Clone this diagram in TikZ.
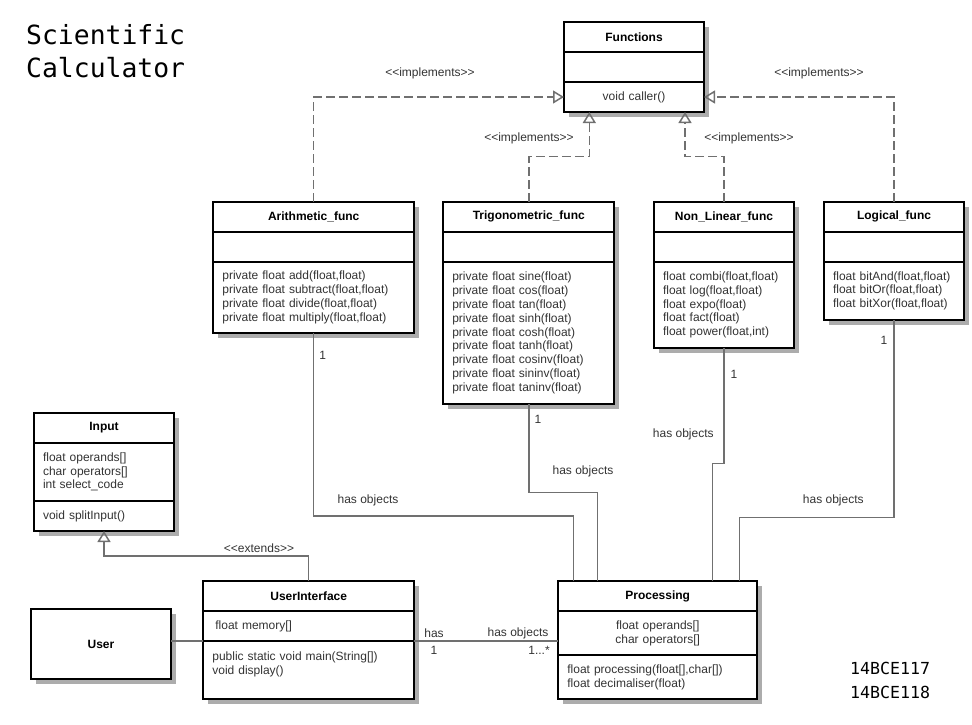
\documentclass[tikz,border=0pt]{standalone}
\usepackage{fontspec}
\setmainfont{Liberation Sans}
\setmonofont{DejaVu Sans Mono}
\usepackage{tikz}
\usetikzlibrary{arrows.meta, positioning, calc, backgrounds}
\definecolor{colorLine}{RGB}{112, 112, 112}
\definecolor{colorText}{RGB}{51, 51, 51}
\definecolor{colorShadow}{RGB}{172, 172, 172}
\tikzstyle{classpart} = [rectangle, draw=black, line width=2pt, fill=white, inner xsep=9pt, inner ysep=0pt, outer sep=0pt, text=colorText]
\tikzstyle{classname} = [classpart, minimum height=30pt, text=black, font=\fontsize{12}{13.8}\selectfont\bfseries]
\tikzstyle{members} = [classpart, align=left]
\tikzstyle{memberscenter} = [classpart, align=center]
\tikzstyle{umlshadow} = [fill=colorShadow]
\tikzstyle{implements} = [draw=colorLine, line width=1.5pt, dash pattern=on 9pt off 4pt, -{Triangle[open, length=11pt, width=13pt]}]
\tikzstyle{extends} = [draw=colorLine, line width=1.5pt, -{Triangle[open, length=11pt, width=13pt]}]
\tikzstyle{assoc} = [draw=colorLine, line width=1.5pt]
\tikzstyle{lbl} = [text=colorText, inner sep=0pt]

\begin{document}
\begin{tikzpicture}[x=1pt, y=-1pt, font=\fontsize{12}{13.8}\selectfont]
	\useasboundingbox (0,0) rectangle (972,724);

	% title and ids
	\node (title)[anchor=north west, align=left, inner sep=0pt, font=\ttfamily\fontsize{26.4}{33}\selectfont] at (26,24.6) {Scientific\\Calculator};
	\node (ids)[anchor=north west, align=left, inner sep=0pt, font=\ttfamily\fontsize{16.6}{23.4}\selectfont] at (850,662.2) {14BCE117\\14BCE118};

	% Functions
	\node (fnName)[classname, minimum width=140pt] at (634,37) {Functions};
	\node (fnAttr)[members, text width=122pt, minimum height=30pt, below=0pt of fnName] {};
	\node (fnOps)[memberscenter, text width=122pt, minimum height=30pt, below=0pt of fnAttr] {void caller()};

	% Arithmetic_func
	\node (arName)[classname, minimum width=200.7pt] at (313.7,216.7) {Arithmetic\_func};
	\node (arAttr)[members, text width=182.7pt, minimum height=30pt, below=0pt of arName] {};
	\node (arOps)[members, text width=182.7pt, minimum height=71.6pt, below=0pt of arAttr] {private float add(float,float)\\private float subtract(float,float)\\private float divide(float,float)\\private float multiply(float,float)};

	% Trigonometric_func
	\node (trName)[classname, minimum width=171pt] at (528.8,216.7) {Trigonometric\_func};
	\node (trAttr)[members, text width=153pt, minimum height=30pt, below=0pt of trName] {};
	\node (trOps)[members, text width=153pt, minimum height=142.6pt, below=0pt of trAttr] {private float sine(float)\\private float cos(float)\\private float tan(float)\\private float sinh(float)\\private float cosh(float)\\private float tanh(float)\\private float cosinv(float)\\private float sininv(float)\\private float taninv(float)};

	% Non_Linear_func
	\node (nlName)[classname, minimum width=140pt] at (724,216.7) {Non\_Linear\_func};
	\node (nlAttr)[members, text width=122pt, minimum height=30pt, below=0pt of nlName] {};
	\node (nlOps)[members, text width=122pt, minimum height=86.6pt, below=0pt of nlAttr] {float combi(float,float)\\float log(float,float)\\float expo(float)\\float fact(float)\\float power(float,int)};

	% Logical_func
	\node (lgName)[classname, minimum width=140pt] at (894,216.7) {Logical\_func};
	\node (lgAttr)[members, text width=122pt, minimum height=30pt, below=0pt of lgName] {};
	\node (lgOps)[members, text width=122pt, minimum height=58.3pt, below=0pt of lgAttr] {float bitAnd(float,float)\\float bitOr(float,float)\\float bitXor(float,float)};

	% Input
	\node (inName)[classname, minimum width=140pt] at (104,428) {Input};
	\node (inAttr)[members, text width=122pt, minimum height=58pt, below=0pt of inName] {float operands[]\\char operators[]\\int select\_code};
	\node (inOps)[members, text width=122pt, minimum height=30pt, below=0pt of inAttr] {void splitInput()};

	% User
	\node (user)[classname, minimum width=140.6pt, minimum height=70pt] at (101,644) {User};

	% UserInterface
	\node (uiName)[classname, minimum width=210.7pt] at (308.7,596) {UserInterface};
	\node (uiAttr)[members, inner xsep=12pt, text width=186.7pt, minimum height=30pt, below=0pt of uiName] {float memory[]};
	\node (uiOps)[members, text width=192.7pt, minimum height=58pt, below=0pt of uiAttr] {public static void main(String[])\\void display()\\\mbox{}};

	% Processing
	\node (pcName)[classname, minimum width=198.7pt] at (657.7,596) {Processing};
	\node (pcAttr)[memberscenter, text width=180.7pt, minimum height=44pt, below=0pt of pcName] {float operands[]\\char operators[]};
	\node (pcOps)[members, text width=180.7pt, minimum height=44pt, below=0pt of pcAttr] {float processing(float[],char[])\\float decimaliser(float)};

	% shadows
	\begin{scope}[on background layer]
		\foreach \cls in {fn, ar, tr, nl, lg, in, ui, pc}
			\fill[umlshadow] ($(\cls Name.north west)+(5pt,-5pt)$) rectangle ($(\cls Ops.south east)+(5pt,-5pt)$);
		\fill[umlshadow] ($(user.north west)+(5pt,-5pt)$) rectangle ($(user.south east)+(5pt,-5pt)$);
	\end{scope}

	% 拐弯用
	\coordinate (dummyT) at (589.3,156.7);
	\coordinate (dummyN) at (685,156.7);
	\coordinate (dummyA) at (573.3,516);
	\coordinate (dummyT2) at (597.7,492.3);
	\coordinate (dummyN2) at (712.5,463.3);
	\coordinate (dummyL) at (739.5,517.3);

	% implements
	\draw[implements] (arName.north) |- (fnOps.west);
	\draw[implements] (trName.north) |- (dummyT) -- (dummyT |- fnOps.south);
	\draw[implements] (nlName.north) |- (dummyN) -- (dummyN |- fnOps.south);
	\draw[implements] (lgName.north) |- (fnOps.east);
	\node (lblImplAr)[lbl] at (430,73) {<\kern0pt<implements>\kern0pt>};
	\node (lblImplTr)[lbl] at (529,138) {<\kern0pt<implements>\kern0pt>};
	\node (lblImplNl)[lbl] at (749,138) {<\kern0pt<implements>\kern0pt>};
	\node (lblImplLg)[lbl] at (819,73) {<\kern0pt<implements>\kern0pt>};

	% extends
	\draw[extends] (uiName.north) -- ++(0,-25) -| (inOps.south);
	\node (lblExtends)[lbl] at (259,548) {<\kern0pt<extends>\kern0pt>};

	% has objects
	\draw[assoc] (arOps.south) |- (dummyA) -- (dummyA |- pcName.north);
	\draw[assoc] (trOps.south) |- (dummyT2) -- (dummyT2 |- pcName.north);
	\draw[assoc] (nlOps.south) |- (dummyN2) -- (dummyN2 |- pcName.north);
	\draw[assoc] (lgOps.south) |- (dummyL) -- (dummyL |- pcName.north);
	\node (lblOneAr)[lbl] at (322.7,355) {1};
	\node (lblOneTr)[lbl] at (538,419) {1};
	\node (lblOneNl)[lbl] at (734,374) {1};
	\node (lblOneLg)[lbl] at (884,340.7) {1};
	\node (lblHasAr)[lbl] at (368,500) {has objects};
	\node (lblHasTr)[lbl] at (583,471.7) {has objects};
	\node (lblHasNl)[lbl] at (683.3,434) {has objects};
	\node (lblHasLg)[lbl] at (833.3,500) {has objects};

	% user, userinterface, processing
	\draw[assoc] (uiOps.north west) -- (uiOps.north west -| user.east);
	\draw[assoc] (uiOps.north east) -- (uiOps.north east -| pcAttr.west);
	\node (lblHas)[lbl] at (434,633) {has};
	\node (lblHasOne)[lbl] at (434,650) {1};
	\node (lblHasObj)[lbl] at (518,633) {has objects};
	\node (lblHasMany)[lbl] at (539,650) {1...*};

\end{tikzpicture}
\end{document}
